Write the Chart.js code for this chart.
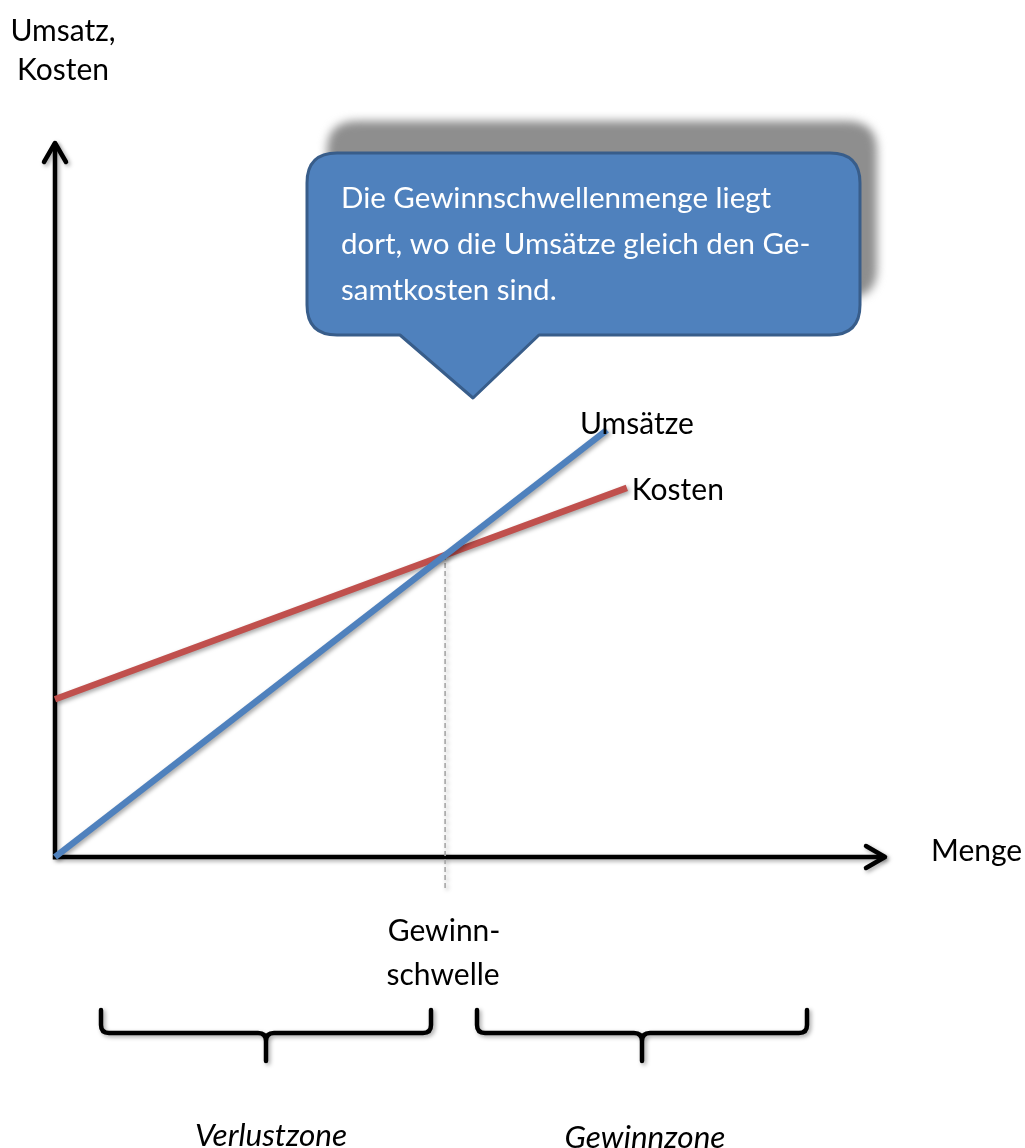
<!DOCTYPE html>
<html lang="de">
<head>
<meta charset="utf-8">
<title>Gewinnschwelle</title>
<script src="https://cdn.jsdelivr.net/npm/chart.js@4/dist/chart.umd.min.js"></script>
<style>
  html, body { margin: 0; padding: 0; background: #ffffff; }
  #wrap { width: 1025px; height: 1148px; position: relative; }
</style>
</head>
<body>
<div id="wrap"><canvas id="c" width="1025" height="1148"></canvas></div>
<script>
// Umsatzgerade (Menge -> Umsatz)
const umsatzMenge = [0, 66.5];
const umsatzWerte = [0, 59.8];
// Gesamtkostengerade (Fixkosten + variable Kosten)
const kostenMenge = [0, 68.9];
const kostenWerte = [22.1, 51.7];
// Senkrechte an der Gewinnschwelle
const schwelleMenge = [47.0, 47.0];
const schwelleWerte = [42.3, -4.4];

const seriesNames = ['Umsätze', 'Kosten'];
const axisLabelY = ['Umsatz,', 'Kosten'];
const axisLabelX = 'Menge';
const schwelleLabel = ['Gewinn-', 'schwelle'];
const zonenLabels = ['Verlustzone', 'Gewinnzone'];
const calloutText = [
  'Die Gewinnschwellenmenge liegt',
  'dort, wo die Umsätze gleich den Ge-',
  'samtkosten sind.'
];

const FONT = 'Lato, "Open Sans", sans-serif';
const BLUE = '#4f81bd';
const RED = '#c0504d';

const toPoints = (xs, ys) => xs.map((x, i) => ({ x, y: ys[i] }));

function roundRect(ctx, x0, y0, x1, y1, r) {
  ctx.beginPath();
  ctx.moveTo(x0 + r, y0);
  ctx.lineTo(x1 - r, y0);
  ctx.quadraticCurveTo(x1, y0, x1, y0 + r);
  ctx.lineTo(x1, y1 - r);
  ctx.quadraticCurveTo(x1, y1, x1 - r, y1);
  ctx.lineTo(x0 + r, y1);
  ctx.quadraticCurveTo(x0, y1, x0, y1 - r);
  ctx.lineTo(x0, y0 + r);
  ctx.quadraticCurveTo(x0, y0, x0 + r, y0);
  ctx.closePath();
}

function softShadow(ctx) {
  ctx.shadowColor = 'rgba(0,0,0,0.35)';
  ctx.shadowBlur = 4;
  ctx.shadowOffsetX = 2;
  ctx.shadowOffsetY = 2;
}

// Achsen mit offenen Pfeilspitzen
const achsenPlugin = {
  id: 'achsen',
  beforeDatasetsDraw(chart) {
    const { ctx, scales: { x, y } } = chart;
    const ox = x.getPixelForValue(0);
    const oy = y.getPixelForValue(0);
    const top = chart.chartArea.top;
    const right = chart.chartArea.right;
    ctx.save();
    softShadow(ctx);
    ctx.strokeStyle = '#000';
    ctx.lineWidth = 4.5;
    ctx.lineCap = 'butt';
    ctx.lineJoin = 'round';
    ctx.beginPath();
    ctx.moveTo(ox, oy + 2.5);
    ctx.lineTo(ox, top);
    ctx.moveTo(ox - 2.2, oy);
    ctx.lineTo(right, oy);
    ctx.stroke();
    ctx.lineCap = 'round';
    ctx.beginPath();
    ctx.moveTo(ox - 11, top + 19);
    ctx.lineTo(ox, top);
    ctx.lineTo(ox + 11, top + 19);
    ctx.moveTo(right - 19, oy - 11);
    ctx.lineTo(right, oy);
    ctx.lineTo(right - 19, oy + 11);
    ctx.stroke();
    ctx.restore();
    // Schatten für die Geraden
    ctx.save();
    softShadow(ctx);
  },
  afterDatasetsDraw(chart) {
    chart.ctx.restore();
  }
};

function brace(ctx, x0, x1, yTop, yMid, yTip) {
  const xc = (x0 + x1) / 2;
  const r = 8;
  ctx.beginPath();
  ctx.moveTo(x0, yTop);
  ctx.lineTo(x0, yMid - r);
  ctx.quadraticCurveTo(x0, yMid, x0 + r, yMid);
  ctx.lineTo(xc - r, yMid);
  ctx.quadraticCurveTo(xc, yMid, xc, yMid + r);
  ctx.lineTo(xc, yTip);
  ctx.moveTo(xc, yMid + r);
  ctx.quadraticCurveTo(xc, yMid, xc + r, yMid);
  ctx.lineTo(x1 - r, yMid);
  ctx.quadraticCurveTo(x1, yMid, x1, yMid - r);
  ctx.lineTo(x1, yTop);
  ctx.stroke();
}

// Beschriftungen, Klammern und Sprechblase
const beschriftungPlugin = {
  id: 'beschriftung',
  afterDraw(chart) {
    const { ctx, scales: { x, y } } = chart;
    ctx.save();
    ctx.fillStyle = '#000';
    ctx.textBaseline = 'middle';

    // Achsentitel
    ctx.font = '30px ' + FONT;
    ctx.textAlign = 'center';
    ctx.fillText(axisLabelY[0], 63, 31);
    ctx.fillText(axisLabelY[1], 63, 70);
    ctx.textAlign = 'left';
    ctx.fillText(axisLabelX, 931, 851);

    // Reihenbeschriftungen an den Geradenenden
    const uEnd = { x: x.getPixelForValue(umsatzMenge[1]), y: y.getPixelForValue(umsatzWerte[1]) };
    const kEnd = { x: x.getPixelForValue(kostenMenge[1]), y: y.getPixelForValue(kostenWerte[1]) };
    ctx.fillText(seriesNames[0], uEnd.x - 27, uEnd.y - 6);
    ctx.fillText(seriesNames[1], kEnd.x + 5, kEnd.y + 2);

    // Gewinnschwelle
    const sx = x.getPixelForValue(schwelleMenge[0]);
    ctx.textAlign = 'center';
    ctx.fillText(schwelleLabel[0], sx - 1, 931);
    ctx.fillText(schwelleLabel[1], sx - 2, 975);

    // Klammern
    ctx.save();
    softShadow(ctx);
    ctx.strokeStyle = '#000';
    ctx.lineWidth = 4.5;
    ctx.lineCap = 'round';
    ctx.lineJoin = 'round';
    brace(ctx, 101, 431, 1010, 1033, 1061);
    brace(ctx, 477, 807, 1010, 1033, 1061);
    ctx.restore();

    ctx.font = 'italic 31.5px ' + FONT;
    ctx.fillText(zonenLabels[0], 271, 1136);
    ctx.fillText(zonenLabels[1], 645, 1138);

    // Schatten der Sprechblase
    ctx.save();
    ctx.filter = 'blur(5px)';
    ctx.fillStyle = '#8e8e8e';
    roundRect(ctx, 327, 121, 877, 298, 30);
    ctx.fill();
    ctx.restore();

    // Sprechblase
    ctx.save();
    ctx.beginPath();
    const bx0 = 307, by0 = 153, bx1 = 860, by1 = 335, r = 30;
    ctx.moveTo(bx0 + r, by0);
    ctx.lineTo(bx1 - r, by0);
    ctx.quadraticCurveTo(bx1, by0, bx1, by0 + r);
    ctx.lineTo(bx1, by1 - r);
    ctx.quadraticCurveTo(bx1, by1, bx1 - r, by1);
    ctx.lineTo(539, by1);
    ctx.lineTo(473, 398);
    ctx.lineTo(400, by1);
    ctx.lineTo(bx0 + r, by1);
    ctx.quadraticCurveTo(bx0, by1, bx0, by1 - r);
    ctx.lineTo(bx0, by0 + r);
    ctx.quadraticCurveTo(bx0, by0, bx0 + r, by0);
    ctx.closePath();
    ctx.fillStyle = BLUE;
    ctx.fill();
    ctx.strokeStyle = '#385d8a';
    ctx.lineWidth = 3;
    ctx.lineJoin = 'round';
    ctx.stroke();
    ctx.restore();

    ctx.fillStyle = '#ffffff';
    ctx.textAlign = 'left';
    ctx.font = '29.5px ' + FONT;
    calloutText.forEach((t, i) => ctx.fillText(t, 341, 198 + i * 46));
    ctx.restore();
  }
};

new Chart(document.getElementById('c'), {
  type: 'scatter',
  data: {
    datasets: [
      {
        label: 'Gewinnschwelle',
        data: toPoints(schwelleMenge, schwelleWerte),
        showLine: true,
        borderColor: '#a6a6a6',
        borderWidth: 1.6,
        borderDash: [5, 3],
        pointRadius: 0,
        clip: false,
        order: 3
      },
      {
        label: seriesNames[1],
        data: toPoints(kostenMenge, kostenWerte),
        showLine: true,
        borderColor: RED,
        borderWidth: 6.5,
        borderCapStyle: 'butt',
        pointRadius: 0,
        clip: false,
        order: 2
      },
      {
        label: seriesNames[0],
        data: toPoints(umsatzMenge, umsatzWerte),
        showLine: true,
        borderColor: BLUE,
        borderWidth: 6.5,
        borderCapStyle: 'butt',
        pointRadius: 0,
        clip: false,
        order: 1
      }
    ]
  },
  options: {
    responsive: false,
    animation: false,
    devicePixelRatio: 1,
    layout: { padding: { left: 55, right: 140, top: 143, bottom: 291 } },
    scales: {
      x: { type: 'linear', min: 0, max: 100, display: false },
      y: { type: 'linear', min: 0, max: 100, display: false }
    },
    plugins: {
      legend: { display: false },
      tooltip: { enabled: false },
      title: { display: false }
    }
  },
  plugins: [achsenPlugin, beschriftungPlugin]
});
</script>
</body>
</html>
